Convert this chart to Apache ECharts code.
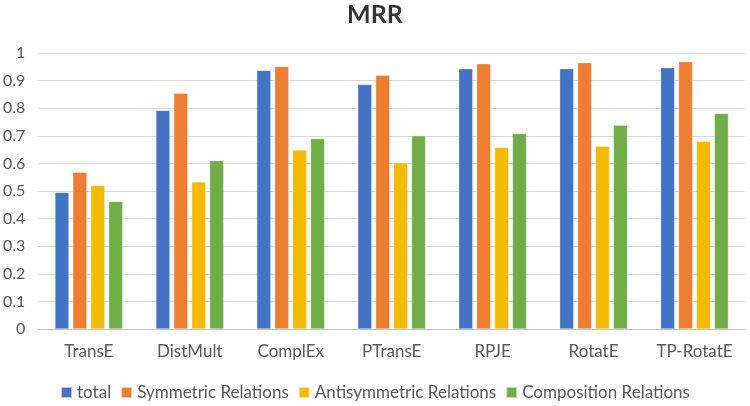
<!DOCTYPE html>
<html>
<head>
<meta charset="utf-8">
<script src="https://cdn.jsdelivr.net/npm/echarts@6/dist/echarts.min.js"></script>
<style>
  html, body { margin: 0; padding: 0; background: #fff; }
  #chart { width: 750px; height: 406px; }
</style>
</head>
<body>
<div id="chart"></div>
<script>
// models on the x axis
var models = ['TransE', 'DistMult', 'ComplEx', 'PTransE', 'RPJE', 'RotatE', 'TP-RotatE'];

// MRR values
var total = [0.495, 0.792, 0.937, 0.886, 0.943, 0.943, 0.947];
var symmetric = [0.568, 0.854, 0.951, 0.919, 0.961, 0.965, 0.968];
var antisymmetric = [0.52, 0.533, 0.649, 0.602, 0.658, 0.662, 0.68];
var composition = [0.462, 0.61, 0.69, 0.70, 0.708, 0.738, 0.781];

var yTicks = [0, 0.1, 0.2, 0.3, 0.4, 0.5, 0.6, 0.7, 0.8, 0.9, 1];

var font = 'Lato, "Open Sans", sans-serif';

var myChart = echarts.init(document.getElementById('chart'));

function bar(name, data, color) {
  return {
    name: name,
    type: 'bar',
    data: data,
    barWidth: 14,
    barGap: '28%',
    itemStyle: { color: color, borderColor: 'rgba(255,255,255,0.6)', borderWidth: 0.5 }
  };
}

var option = {
  backgroundColor: '#fff',
  animation: false,
  title: {
    text: 'MRR',
    left: 'center',
    top: -3,
    textStyle: { fontFamily: font, fontSize: 25, fontWeight: 'bold', color: '#333' }
  },
  legend: {
    top: 384,
    left: 'center',
    itemWidth: 11,
    itemHeight: 11,
    itemGap: 9,
    padding: 0,
    icon: 'rect',
    textStyle: { fontFamily: font, fontSize: 17, color: '#595959' },
    data: ['total', 'Symmetric Relations', 'Antisymmetric Relations', 'Composition Relations']
  },
  grid: { left: 36, right: 5, top: 53, bottom: 77, containLabel: false },
  xAxis: {
    type: 'category',
    data: models,
    axisLine: { lineStyle: { color: '#bfbfbf', width: 1 } },
    axisTick: { show: false },
    axisLabel: { fontFamily: font, fontSize: 17, color: '#595959', margin: 14 }
  },
  yAxis: {
    type: 'value',
    min: yTicks[0],
    max: yTicks[yTicks.length - 1],
    interval: 0.1,
    axisLine: { show: false },
    axisTick: { show: false },
    axisLabel: {
      fontFamily: font, fontSize: 16, color: '#595959', margin: 13,
      formatter: function (v) { return String(Math.round(v * 10) / 10); }
    },
    splitLine: { lineStyle: { color: '#d9d9d9', width: 1 } }
  },
  series: [
    bar('total', total, '#4472c4'),
    bar('Symmetric Relations', symmetric, '#ed7d31'),
    bar('Antisymmetric Relations', antisymmetric, '#f4ba00'),
    bar('Composition Relations', composition, '#70ad47')
  ]
};

myChart.setOption(option);
</script>
</body>
</html>
